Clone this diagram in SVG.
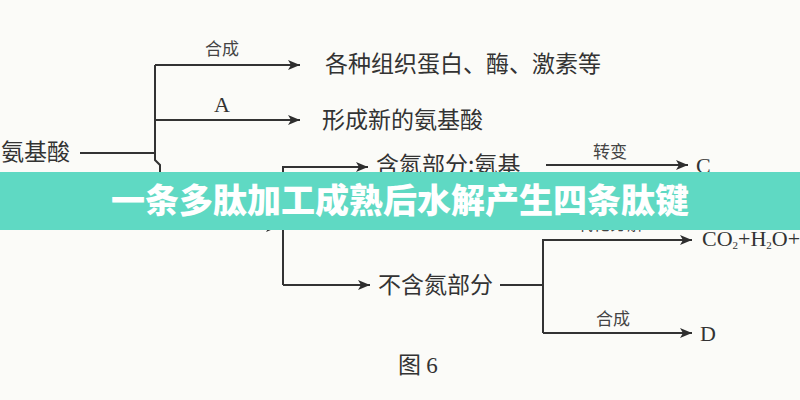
<svg xmlns="http://www.w3.org/2000/svg" width="800" height="400" viewBox="0 0 800 400">
<defs>
<marker id="arr" viewBox="0 0 12 10" refX="12" refY="5" markerWidth="12" markerHeight="10" markerUnits="userSpaceOnUse" orient="auto">
<path d="M0,0 L12,5 L0,10 L3,5 Z" fill="#2e2e2e"/>
</marker>
<style>
.ln{fill:none;stroke:#333;stroke-width:2}
.t{font-family:"Noto Sans CJK SC","Noto Sans",sans-serif;fill:#333;font-size:23px}
.s{font-family:"Noto Sans CJK SC","Noto Sans",sans-serif;fill:#444;font-size:17px}
.r{font-family:"Liberation Serif","Noto Sans CJK SC",serif;fill:#333;font-size:22px}
.b{font-family:"Noto Sans CJK SC",sans-serif;fill:#fff;font-size:34px;font-weight:900}
</style>
</defs>
<rect width="800" height="400" fill="#fbfbf8"/>
<g id="connectors">
<path class="ln" d="M80,153 H155"/>
<path class="ln" d="M155,65 V160 L160,165 V227 H278" marker-end="url(#arr)"/>
<path class="ln" d="M155,65 H300" marker-end="url(#arr)"/>
<path class="ln" d="M155,120 H300" marker-end="url(#arr)"/>
<path class="ln" d="M283,285 V167 H368" marker-end="url(#arr)"/>
<path class="ln" d="M283,285 H370" marker-end="url(#arr)"/>
<path class="ln" d="M546,165 H688" marker-end="url(#arr)"/>
<path class="ln" d="M500,285 H543"/>
<path class="ln" d="M543,333 V240 H692" marker-end="url(#arr)"/>
<path class="ln" d="M543,333 H692" marker-end="url(#arr)"/>
</g>
<g id="n-amino"><text class="t" x="1" y="160">氨基酸</text></g>
<g id="l-hecheng1"><text class="s" x="205" y="55">合成</text></g>
<g id="n-protein"><text class="t" x="325" y="72">各种组织蛋白、酶、激素等</text></g>
<g id="l-A"><text class="r" x="214" y="112" font-size="18">A</text></g>
<g id="n-newamino"><text class="t" x="322" y="128">形成新的氨基酸</text></g>
<g id="n-nitro"><text class="t" x="376" y="173">含氮部分:氨基</text></g>
<g id="l-zhuanbian"><text class="s" x="593" y="158">转变</text></g>
<g id="n-C"><text class="r" x="696" y="173">C</text></g>
<g id="n-nonnitro"><text class="t" x="378" y="293">不含氮部分</text></g>
<g id="l-oxid"><text class="s" x="576" y="230">氧化分解</text></g>
<g id="n-co2"><text class="r" x="702" y="246" font-size="17">CO<tspan font-size="11" dy="3">2</tspan><tspan dy="-3">+H</tspan><tspan font-size="11" dy="3">2</tspan><tspan dy="-3">O+</tspan></text></g>
<g id="l-hecheng2"><text class="s" x="596" y="325">合成</text></g>
<g id="n-D"><text class="r" x="700" y="341">D</text></g>
<g id="caption"><text class="t" x="398" y="373" font-size="20">图 <tspan font-family="Liberation Serif">6</tspan></text></g>
<g id="banner">
<rect x="0" y="172" width="800" height="58" fill="#5fd9c3"/>
<text class="b" x="400" y="213" text-anchor="middle">一条多肽加工成熟后水解产生四条肽键</text>
</g>
</svg>
